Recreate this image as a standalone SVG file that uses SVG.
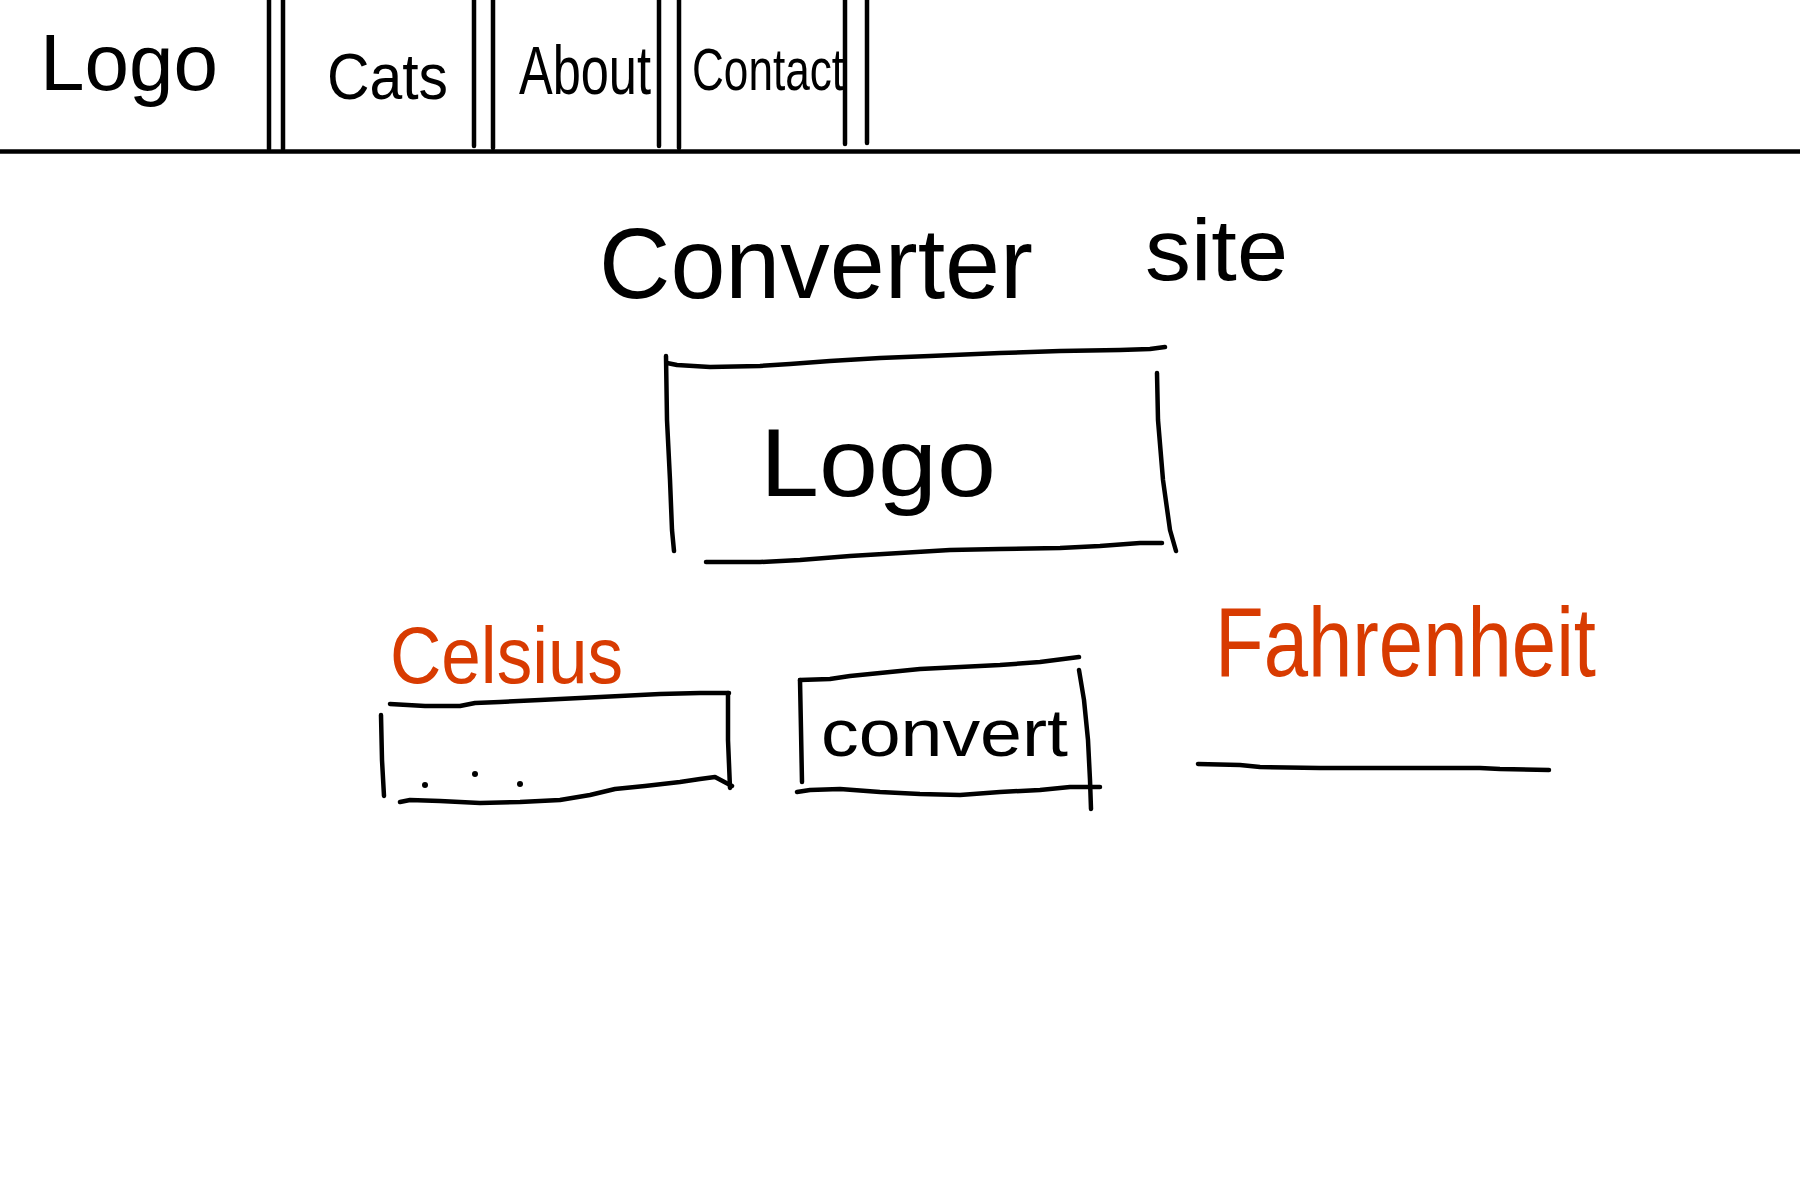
<svg xmlns="http://www.w3.org/2000/svg" width="1800" height="1200" viewBox="0 0 1800 1200">
<style>
.ln{fill:none;stroke:#000;stroke-width:4.5;stroke-linecap:round;stroke-linejoin:round}
.t{font-family:"Liberation Sans","DejaVu Sans",sans-serif;font-weight:normal;fill:#000}
.r{fill:#d83b01}
</style>
<rect width="1800" height="1200" fill="#fff"/>
<g id="navbar">
<line class="ln" x1="0" y1="151.5" x2="1800" y2="151.5"/>
<line class="ln" x1="269" y1="0" x2="269" y2="149"/>
<line class="ln" x1="283" y1="0" x2="283" y2="149"/>
<line class="ln" x1="474" y1="0" x2="474" y2="146"/>
<line class="ln" x1="493" y1="0" x2="493" y2="148"/>
<line class="ln" x1="659" y1="0" x2="659" y2="146"/>
<line class="ln" x1="679" y1="0" x2="679" y2="148"/>
<line class="ln" x1="845" y1="0" x2="845" y2="144"/>
<line class="ln" x1="867" y1="0" x2="867" y2="143"/>
</g>
<g id="nav-logo"><text class="t" x="40" y="90" font-size="80" textLength="178" lengthAdjust="spacingAndGlyphs">Logo</text></g>
<g id="nav-cats"><text class="t" x="327" y="99" font-size="64" textLength="121" lengthAdjust="spacingAndGlyphs">Cats</text></g>
<g id="nav-about"><text class="t" x="519" y="94" font-size="68" textLength="132" lengthAdjust="spacingAndGlyphs">About</text></g>
<g id="nav-contact"><text class="t" x="692" y="90" font-size="60" textLength="152" lengthAdjust="spacingAndGlyphs">Contact</text></g>
<g id="title">
<text class="t" x="599" y="298" font-size="100" textLength="434" lengthAdjust="spacingAndGlyphs">Converter</text>
<text class="t" x="1145" y="280" font-size="88" textLength="143" lengthAdjust="spacingAndGlyphs">site</text>
</g>
<g id="logo-box">
<polyline class="ln" points="667,363 677,365 710,367 760,366 790,364 830,361 880,358 930,356 1000,353 1060,351 1120,350 1150,349 1165,347"/>
<polyline class="ln" points="666,356 667,420 670,480 672,530 674,551"/>
<polyline class="ln" points="1157,373 1158,420 1163,480 1170,530 1176,551"/>
<polyline class="ln" points="706,562 760,562 800,560 850,556 900,553 950,550 1000,549 1060,548 1100,546 1140,543 1162,543"/>
<text class="t" x="760" y="496" font-size="96" textLength="236" lengthAdjust="spacingAndGlyphs">Logo</text>
</g>
<g id="celsius-label"><text class="t r" x="390" y="683" font-size="80" textLength="233" lengthAdjust="spacingAndGlyphs">Celsius</text></g>
<g id="celsius-input">
<polyline class="ln" points="390,704 425,706 460,706 475,703 500,702 540,700 600,697 660,694 700,693 729,693"/>
<polyline class="ln" points="381,715 382,760 384,796"/>
<polyline class="ln" points="728,693 728,740 730,788"/>
<polyline class="ln" points="400,802 410,800 440,801 480,803 520,802 560,800 590,795 615,789 645,786 680,782 700,779 715,777 732,786"/>
<circle cx="425" cy="785" r="3" fill="#000"/>
<circle cx="475" cy="774" r="3" fill="#000"/>
<circle cx="520" cy="784" r="3" fill="#000"/>
</g>
<g id="convert-button">
<polyline class="ln" points="800,680 830,679 850,676 880,673 920,669 960,667 1000,665 1040,662 1079,657"/>
<polyline class="ln" points="800,680 801,730 802,782"/>
<polyline class="ln" points="1079,670 1084,700 1088,740 1090,780 1091,809"/>
<polyline class="ln" points="797,792 810,790 840,789 880,792 920,794 960,795 1000,792 1040,790 1070,787 1100,787"/>
<text class="t" x="821" y="756" font-size="66" textLength="247" lengthAdjust="spacingAndGlyphs">convert</text>
</g>
<g id="fahrenheit-label"><text class="t r" x="1215" y="676" font-size="98" textLength="381" lengthAdjust="spacingAndGlyphs">Fahrenheit</text></g>
<g id="fahrenheit-output">
<polyline class="ln" points="1198,764 1240,765 1260,767 1320,768 1400,768 1480,768 1500,769 1549,770"/>
</g>
</svg>
